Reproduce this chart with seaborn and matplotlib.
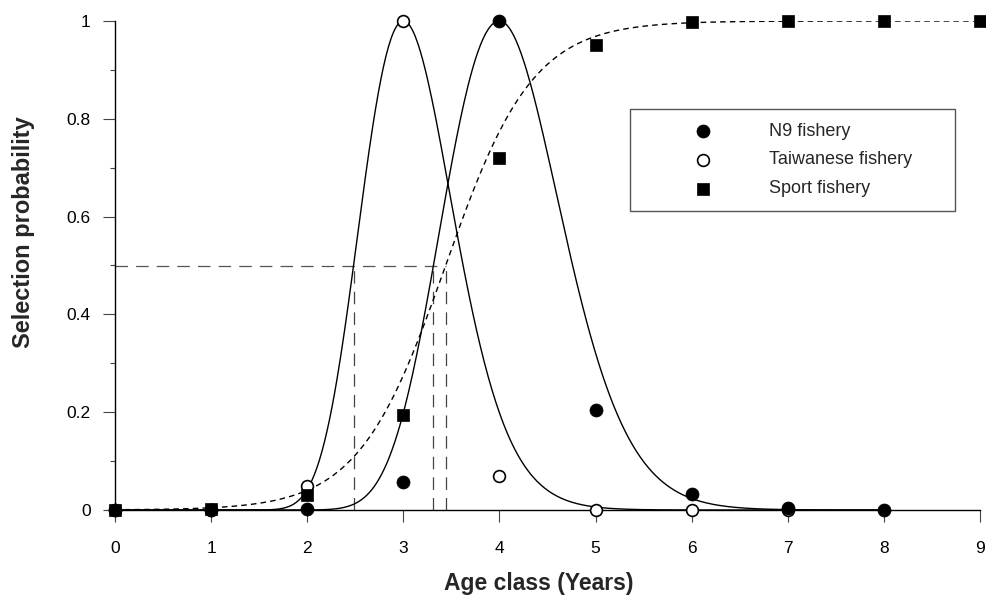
import numpy as np
import pandas as pd
import matplotlib
matplotlib.use("Agg")
import matplotlib.pyplot as plt
from matplotlib.ticker import MultipleLocator, FixedLocator
import seaborn as sns

# ---------------- data ----------------
n9_ages = [0, 1, 2, 3, 4, 5, 6, 7, 8]
n9_sel = [0.0, 0.0, 0.003, 0.057, 1.0, 0.205, 0.033, 0.005, 0.0]

tw_ages = [0, 1, 2, 3, 4, 5, 6, 7]
tw_sel = [0.0, 0.0, 0.05, 1.0, 0.07, 0.0, 0.0, 0.0]

sport_ages = [0, 1, 2, 3, 4, 5, 6, 7, 8, 9]
sport_sel = [0.0, 0.002, 0.03, 0.195, 0.72, 0.95, 0.998, 1.0, 1.0, 1.0]

# fitted selectivity curves: dome (log-normal shaped) and logistic
n9_mode, n9_sig_left, n9_sig_right = 4.0, 0.160, 0.148
tw_mode, tw_sig_left, tw_sig_right = 3.0, 0.161, 0.160
sport_a50, sport_slope = 3.44, 2.2

x_ticks = [0, 1, 2, 3, 4, 5, 6, 7, 8, 9]
y_ticks = [0, 0.2, 0.4, 0.6, 0.8, 1.0]
y_tick_labels = ["0", "0.2", "0.4", "0.6", "0.8", "1"]

labels = ["N9 fishery", "Taiwanese fishery", "Sport fishery"]
x_label = "Age class (Years)"
y_label = "Selection probability"


def dome(x, mode, sl, sr):
    z = np.log(x / mode)
    s = np.where(z < 0, sl, sr)
    return np.exp(-z ** 2 / (2 * s ** 2))


def logistic(x, a50, k):
    return 1.0 / (1.0 + np.exp(-k * (x - a50)))


half = np.sqrt(2 * np.log(2))
tw_a50 = tw_mode * np.exp(-tw_sig_left * half)
n9_a50 = n9_mode * np.exp(-n9_sig_left * half)
ref_x = [tw_a50, n9_a50, sport_a50]

# ---------------- figure ----------------
sns.set_style("ticks")
plt.rcParams["font.family"] = ["Liberation Sans", "DejaVu Sans"]

fig = plt.figure(figsize=(9.86, 5.96), dpi=100)
ax = fig.add_axes([115 / 986, 86 / 596, 865 / 986, 489 / 596])

xs_dome = np.linspace(0.02, 8.0, 600)
xs_log = np.linspace(0.0, 9.0, 600)
curves = pd.DataFrame({
    "x": xs_dome,
    "tw": dome(xs_dome, tw_mode, tw_sig_left, tw_sig_right),
    "n9": dome(xs_dome, n9_mode, n9_sig_left, n9_sig_right),
})
sport_curve = pd.DataFrame({"x": xs_log, "y": logistic(xs_log, sport_a50, sport_slope)})

sns.lineplot(data=curves, x="x", y="tw", ax=ax, color="black", lw=1.0, zorder=2)
sns.lineplot(data=curves, x="x", y="n9", ax=ax, color="black", lw=1.0, zorder=2)
sns.lineplot(data=sport_curve, x="x", y="y", ax=ax, color="black", lw=1.0,
             linestyle=(0, (4.0, 3.0)), zorder=2)

# reference (50 %) lines
ref_dash = (0, (10.0, 6.5))
ax.hlines(0.5, 0, sport_a50, colors="#555555", lw=0.9, linestyles=[ref_dash], zorder=1)
ax.vlines(ref_x, 0, 0.5, colors="#444444", lw=0.9, linestyles=[ref_dash], zorder=1)

# points
sns.scatterplot(x=tw_ages, y=tw_sel, ax=ax, marker="o", s=72, color="white",
                edgecolor="black", linewidth=1.2, clip_on=False, zorder=4,
                label=labels[1])
sns.scatterplot(x=n9_ages, y=n9_sel, ax=ax, marker="o", s=88, color="black",
                edgecolor="black", linewidth=0.5, clip_on=False, zorder=5,
                label=labels[0])
sns.scatterplot(x=sport_ages, y=sport_sel, ax=ax, marker="s", s=74, color="black",
                edgecolor="black", linewidth=0.5, clip_on=False, zorder=6,
                label=labels[2])

# axes styling
ax.set_xlim(0, 9)
ax.set_ylim(0, 1)
sns.despine(ax=ax)
for sp in ("left", "bottom"):
    ax.spines[sp].set_linewidth(1.0)
    ax.spines[sp].set_color("black")
ax.xaxis.set_major_locator(FixedLocator(x_ticks))
ax.set_xticklabels([str(t) for t in x_ticks])
ax.yaxis.set_major_locator(FixedLocator(y_ticks))
ax.set_yticklabels(y_tick_labels)
ax.yaxis.set_minor_locator(MultipleLocator(0.1))
ax.tick_params(axis="both", which="major", direction="out", length=8.6, width=0.8,
               color="#444444", labelsize=12.5, labelcolor="black")
ax.tick_params(axis="x", which="major", pad=14)
ax.tick_params(axis="y", which="major", pad=8.9)
ax.tick_params(axis="y", which="minor", direction="out", length=3.8, width=0.8,
               color="#444444")

ax.set_xlabel(x_label, fontsize=16.5, fontweight="bold")
ax.set_ylabel(y_label, fontsize=17, fontweight="bold")
ax.xaxis.set_label_coords(0.490, -0.127)
ax.yaxis.set_label_coords(-0.0925, 0.568)

# legend
handles, labs = ax.get_legend_handles_labels()
order = [labs.index(l) for l in labels]
leg = ax.legend([handles[i] for i in order], [labs[i] for i in order],
                loc="upper left", bbox_to_anchor=(515 / 865, 0.3, 325 / 865, 401 / 489 - 0.3),
                mode="expand", borderaxespad=0, fontsize=13, frameon=True,
                fancybox=False, shadow=False, borderpad=0.75, handlelength=6.6,
                handletextpad=0.36, labelspacing=0.66)
leg.get_frame().set_edgecolor("#555555")
leg.get_frame().set_linewidth(1.0)
leg.get_frame().set_facecolor("white")
leg.get_frame().set_alpha(1)

fig.savefig("out.png", dpi=100)
